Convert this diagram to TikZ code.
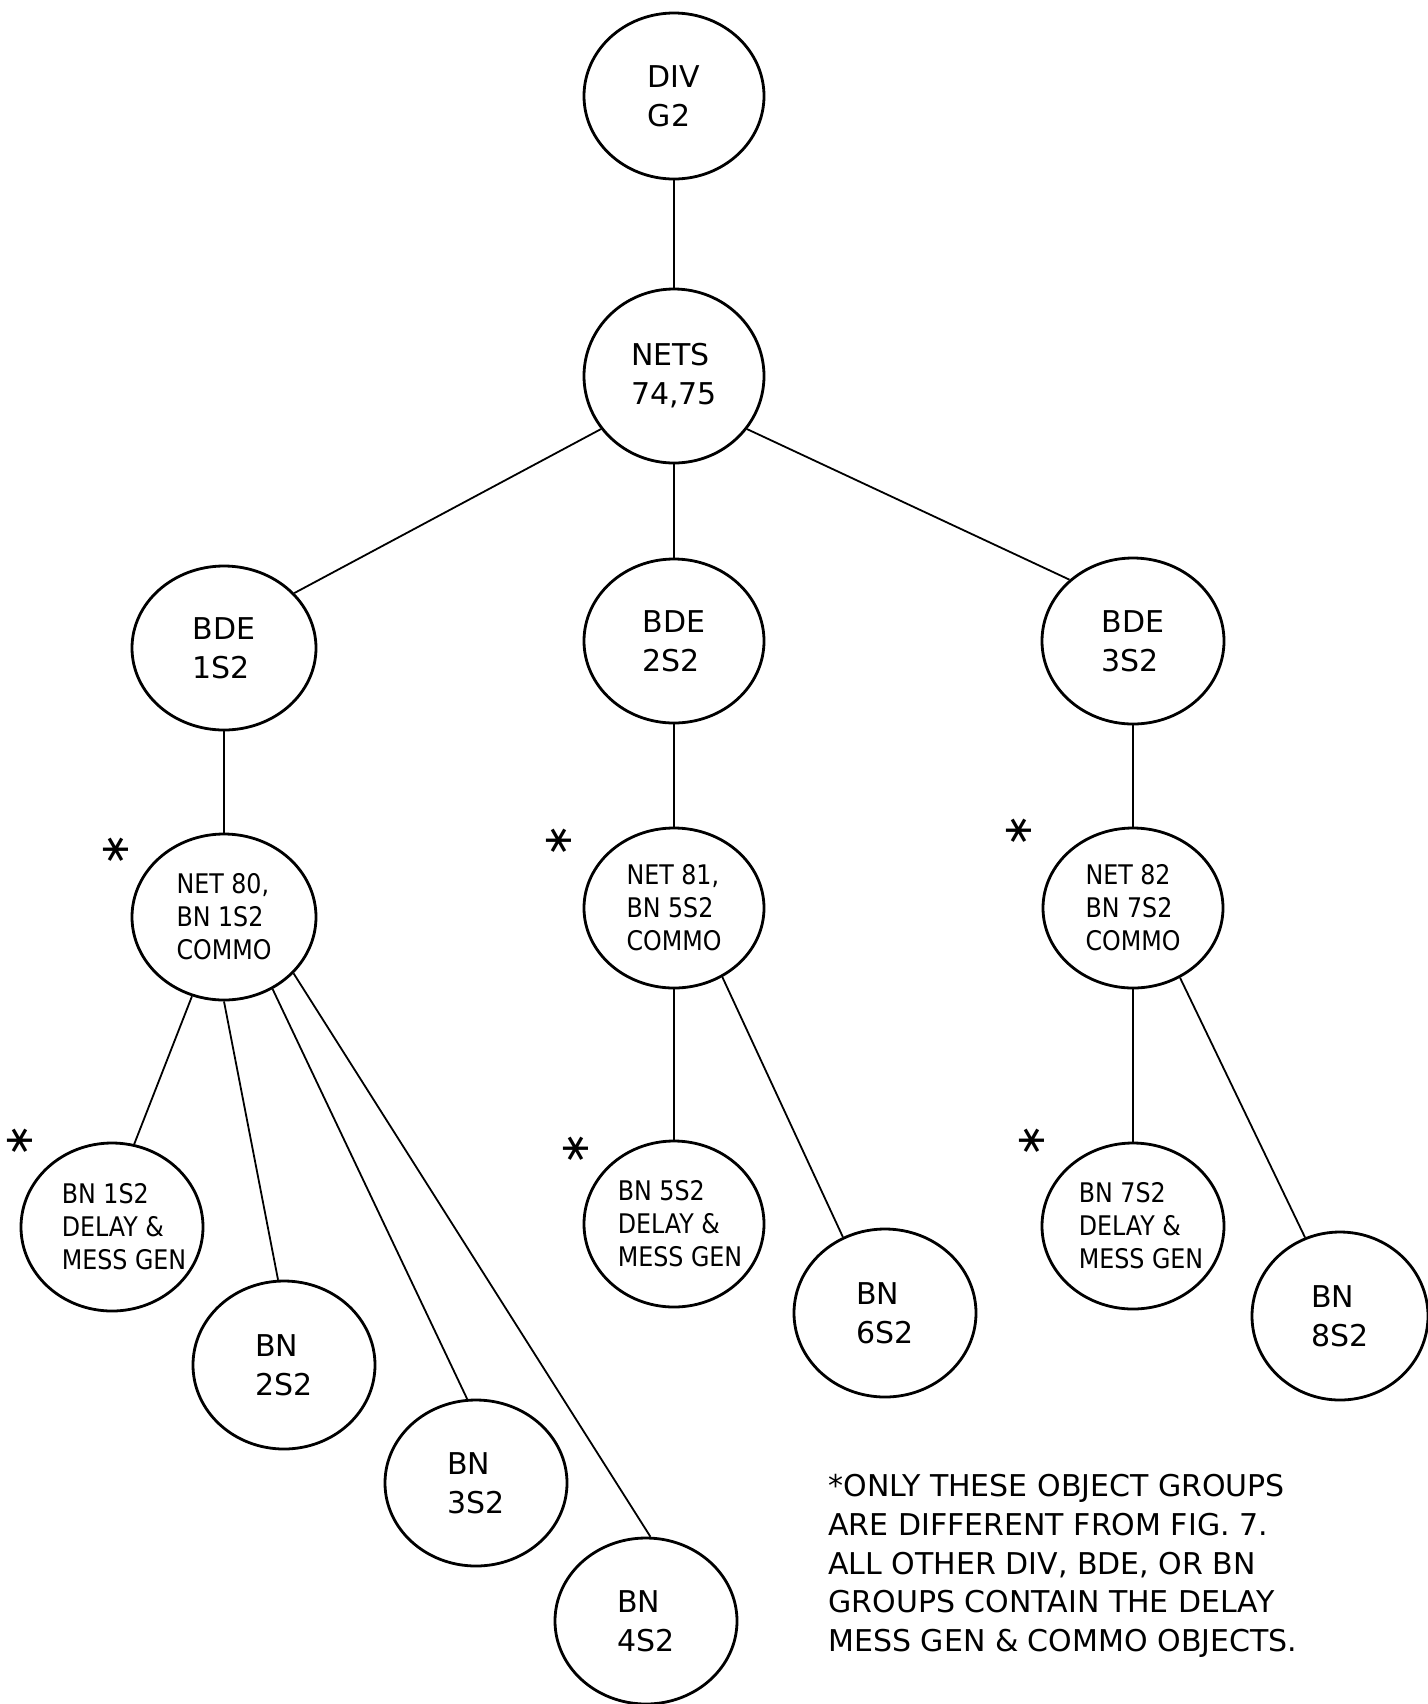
\documentclass[tikz,border=0pt]{standalone}
\usepackage{fontspec}
\setmainfont{DejaVu Sans}
\newfontfamily\nodefont{DejaVu Sans}[FakeStretch=0.88]
\usetikzlibrary{shapes.geometric}
\begin{document}
\begin{tikzpicture}[x=0.5pt,y=-0.5pt,
  oval/.style={draw, ellipse, line width=1.4pt, inner sep=0pt},
  two/.style={font=\fontsize{15}{19.5}\selectfont, align=left, inner sep=0pt},
  three/.style={font=\nodefont\fontsize{13.5}{16.5}\selectfont, align=left, inner sep=0pt},
  note/.style={font=\fontsize{15}{19.3}\selectfont, align=left, inner sep=0pt},
  link/.style={line width=0.9pt},
  starmark/.style={font=\fontsize{20}{20}\selectfont, rotate=90, inner sep=0pt}]
\useasboundingbox (0,0) rectangle (1428,1704);

% ellipses
\node[oval, minimum width=90pt, minimum height=83pt] (div)   at (674,96)   {};
\node[oval, minimum width=90pt, minimum height=87pt] (nets)  at (674,376)  {};
\node[oval, minimum width=92pt, minimum height=82pt] (bde1)  at (224,648)  {};
\node[oval, minimum width=90pt, minimum height=82pt] (bde2)  at (674,641)  {};
\node[oval, minimum width=91pt, minimum height=83pt] (bde3)  at (1133,641) {};
\node[oval, minimum width=92pt, minimum height=83pt] (net80) at (224,917)  {};
\node[oval, minimum width=90pt, minimum height=80pt] (net81) at (674,908)  {};
\node[oval, minimum width=90pt, minimum height=80pt] (net82) at (1133,908) {};
\node[oval, minimum width=91pt, minimum height=84pt] (bn1)   at (112,1227) {};
\node[oval, minimum width=90pt, minimum height=83pt] (bn5)   at (674,1224) {};
\node[oval, minimum width=91pt, minimum height=83pt] (bn7)   at (1133,1226) {};
\node[oval, minimum width=91pt, minimum height=84pt] (bn6)   at (885,1313) {};
\node[oval, minimum width=88pt, minimum height=84pt] (bn8)   at (1340,1316) {};
\node[oval, minimum width=91pt, minimum height=84pt] (bn2)   at (284,1365) {};
\node[oval, minimum width=91pt, minimum height=83pt] (bn3)   at (476,1483) {};
\node[oval, minimum width=91pt, minimum height=83pt] (bn4)   at (646,1621) {};

% texts
\node[two] (tdiv)   at (div)   {DIV\\G2};
\node[two] (tnets)  at (nets)  {NETS\\74,75};
\node[two] (tbde1)  at (bde1)  {BDE\\1S2};
\node[two] (tbde2)  at (bde2)  {BDE\\2S2};
\node[two] (tbde3)  at (bde3)  {BDE\\3S2};
\node[three] (tnet80) at (net80) {NET 80,\\BN 1S2\\COMMO};
\node[three] (tnet81) at (net81) {NET 81,\\BN 5S2\\COMMO};
\node[three] (tnet82) at (net82) {NET 82\\BN 7S2\\COMMO};
\node[three, xshift=6pt] (tbn1) at (bn1) {BN 1S2\\DELAY \&\\MESS GEN};
\node[three, xshift=3pt] (tbn5) at (bn5) {BN 5S2\\DELAY \&\\MESS GEN};
\node[three, xshift=4pt] (tbn7) at (bn7) {BN 7S2\\DELAY \&\\MESS GEN};
\node[two] (tbn2) at (bn2) {BN\\2S2};
\node[two] (tbn3) at (bn3) {BN\\3S2};
\node[two] (tbn4) at (bn4) {BN\\4S2};
\node[two] (tbn6) at (bn6) {BN\\6S2};
\node[two] (tbn8) at (bn8) {BN\\8S2};

% stars
\node[starmark] (s80) at (116,850)  {∗};
\node[starmark] (s81) at (559,841)  {∗};
\node[starmark] (s82) at (1019,831) {∗};
\node[starmark] (s1)  at (20,1141)  {∗};
\node[starmark] (s5)  at (576,1149) {∗};
\node[starmark] (s7)  at (1032,1141) {∗};

% connectors
\draw[link] (div) -- (nets);
\draw[link] (nets.216) -- (bde1.38);
\draw[link] (nets) -- (bde2);
\draw[link] (nets.324) -- (bde3.136);
\draw[link] (bde1) -- (net80);
\draw[link] (bde2) -- (net81);
\draw[link] (bde3) -- (net82);
\draw[link] (net80.248) -- (bn1.75);
\draw[link] (net80.270) -- (bn2.94);
\draw[link] (net80.304) -- (bn3.96);
\draw[link] (net80.321) -- (bn4.87);
\draw[link] (net81) -- (bn5);
\draw[link] (net81.305) -- (bn6.119);
\draw[link] (net82) -- (bn7);
\draw[link] (net82.304) -- (bn8.114);

% footnote
\node[note, anchor=west] (foot) at (828,1566)
  {*ONLY THESE OBJECT GROUPS\\ARE DIFFERENT FROM FIG. 7.\\ALL OTHER DIV, BDE, OR BN\\GROUPS CONTAIN THE DELAY\\MESS GEN \& COMMO OBJECTS.};
\end{tikzpicture}
\end{document}
